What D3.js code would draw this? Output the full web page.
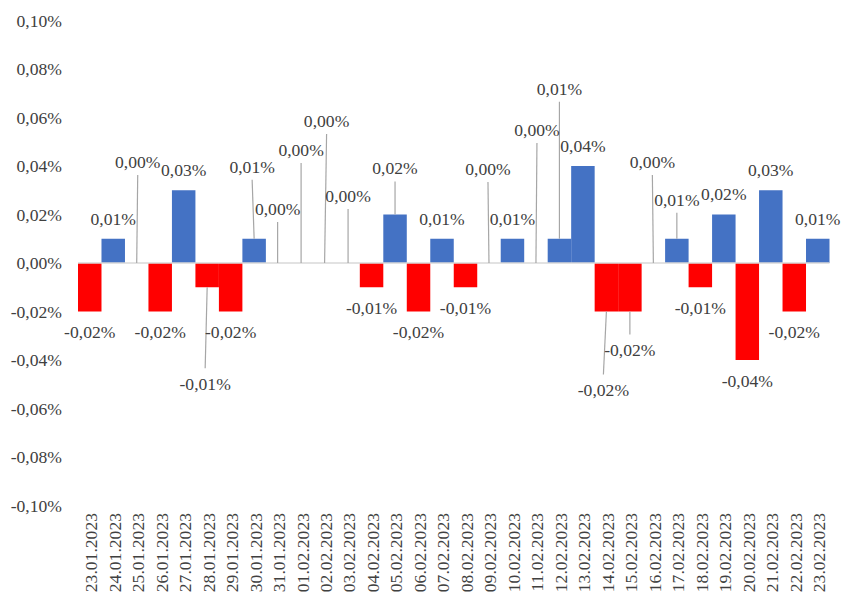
<!DOCTYPE html>
<html>
<head>
<meta charset="utf-8">
<script src="https://cdn.jsdelivr.net/npm/d3@7"></script>
</head>
<body style="margin:0">
<svg id="s" width="841" height="598"></svg>
<script>
// ---- data ----
const dates = [
  "23.01.2023","24.01.2023","25.01.2023","26.01.2023","27.01.2023","28.01.2023",
  "29.01.2023","30.01.2023","31.01.2023","01.02.2023","02.02.2023","03.02.2023",
  "04.02.2023","05.02.2023","06.02.2023","07.02.2023","08.02.2023","09.02.2023",
  "10.02.2023","11.02.2023","12.02.2023","13.02.2023","14.02.2023","15.02.2023",
  "16.02.2023","17.02.2023","18.02.2023","19.02.2023","20.02.2023","21.02.2023",
  "22.02.2023","23.02.2023"
];
// daily change, in percent
const values = [
  -0.02, 0.01, 0.00, -0.02, 0.03, -0.01,
  -0.02, 0.01, 0.00, 0.00, 0.00, 0.00,
  -0.01, 0.02, -0.02, 0.01, -0.01, 0.00,
  0.01, 0.00, 0.01, 0.04, -0.02, -0.02,
  0.00, 0.01, -0.01, 0.02, -0.04, 0.03,
  -0.02, 0.01
];
const yTicks = [-0.10, -0.08, -0.06, -0.04, -0.02, 0.00, 0.02, 0.04, 0.06, 0.08, 0.10];

// ---- layout (label displacement in px; non-zero => leader line) ----
const labelShift = [
  [0,0],[0,0],[1,-81],[0,0],[0,0],[-2,76],
  [0,0],[-2,-52],[0,-34],[0,-93],[2,-122],[0,-47],
  [0,0],[0,-26],[0,0],[0,0],[0,0],[-1,-74],
  [0,0],[1,-113],[0,-130],[0,0],[-3,58],[0,18],
  [-1,-81],[0,-19],[0,0],[0,0],[0,0],[0,0],
  [0,0],[0,0]
];

const FONT = 17.6;
const TXT = "#404040";
const svg = d3.select("#s");

function serif(sel) {
  sel.attr("font-family", "Liberation Serif")
     .style("font-family", "Liberation Serif")
     .attr("font-size", FONT)
     .style("font-size", FONT + "px")
     .attr("fill", TXT);
}

const x = d3.scaleBand().domain(dates).range([78, 829.5]).paddingInner(0).paddingOuter(0);
const y = d3.scaleLinear().domain([-0.1, 0.1]).range([505.5, 20.5]);

const fmt = v => (v < 0 ? "-" : "") + Math.abs(v).toFixed(2).replace(".", ",") + "%";

// y axis labels
const yAxis = d3.axisLeft(y).tickValues(yTicks).tickSize(0).tickPadding(0).tickFormat(fmt);
const gy = svg.append("g").attr("transform", "translate(62,0)").call(yAxis);
gy.attr("font-family", "Liberation Serif").attr("font-size", FONT);
gy.select(".domain").remove();
gy.selectAll("text").call(serif).attr("dy", "0.33em");

// bars
svg.append("g").selectAll("rect")
  .data(values)
  .join("rect")
  .attr("x", (d, i) => x(dates[i]))
  .attr("width", x.bandwidth())
  .attr("y", d => y(Math.max(0, d)))
  .attr("height", d => Math.abs(y(d) - y(0)))
  .attr("fill", d => d >= 0 ? "#4472c4" : "#ff0000");

// zero line
svg.append("line")
  .attr("x1", x.range()[0]).attr("x2", x.range()[1])
  .attr("y1", y(0)).attr("y2", y(0))
  .attr("stroke", "#d9d9d9").attr("stroke-width", 1.5);

// x axis labels
const xAxis = d3.axisBottom(x).tickSize(0).tickPadding(0);
const gx = svg.append("g").attr("transform", "translate(0,513)").call(xAxis);
gx.attr("font-family", "Liberation Serif").attr("font-size", FONT);
gx.select(".domain").remove();
gx.selectAll("text").call(serif)
  .attr("text-anchor", "end")
  .attr("transform", "rotate(-90)")
  .attr("x", 0).attr("y", 0)
  .attr("dy", "0.42em");

// data labels with leader lines
const lab = values.map((v, i) => {
  const cx = x(dates[i]) + x.bandwidth() / 2;
  const anchorY = y(v);
  const baseY = v < 0 ? anchorY + 21 : anchorY - 20;
  const [dx, dy] = labelShift[i];
  return { v, cx, anchorY, lx: cx + dx, ly: baseY + dy, moved: dx !== 0 || dy !== 0 };
});

svg.append("g").selectAll("line")
  .data(lab.filter(d => d.moved))
  .join("line")
  .attr("x1", d => d.cx).attr("y1", d => d.anchorY)
  .attr("x2", d => d.lx).attr("y2", d => d.ly > d.anchorY ? d.ly - 16 : d.ly + 13)
  .attr("stroke", "#a6a6a6").attr("stroke-width", 1.2);

svg.append("g").selectAll("text")
  .data(lab)
  .join("text")
  .attr("x", d => d.lx).attr("y", d => d.ly)
  .attr("dy", "0.33em")
  .attr("text-anchor", "middle")
  .call(serif)
  .text(d => fmt(d.v));
</script>
</body>
</html>
